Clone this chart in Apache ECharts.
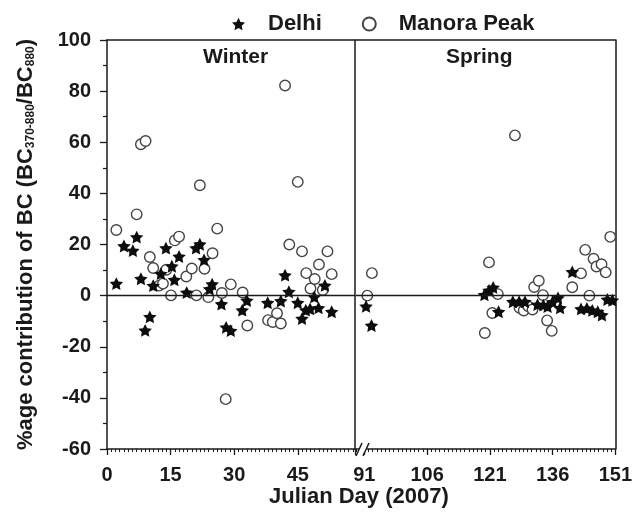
<!DOCTYPE html>
<html>
<head>
<meta charset="utf-8">
<script src="https://cdn.jsdelivr.net/npm/echarts@6/dist/echarts.min.js"></script>
<style>
html,body{margin:0;padding:0;background:#fff;}
#chart{width:635px;height:517px;}
</style>
</head>
<body>
<div id="chart"></div>
<script>
// ---- Data (Julian day, % contribution) ----
const delhiWinter = [
  [2.2,4.7],[4.0,19.4],[6.1,17.6],[7.0,22.9],[8.0,6.6],[9.0,-13.6],[10.1,-8.3],[10.9,3.9],
  [12.7,8.6],[13.9,18.6],[15.3,11.5],[15.9,6.2],[17.0,15.3],[18.8,1.2],[21.0,18.6],[21.9,20.1],
  [22.9,14.0],[24.2,2.6],[24.8,4.5],[27.0,-3.3],[28.1,-12.4],[29.2,-13.7],[31.9,-5.7],[33.0,-1.9],
  [37.9,-2.8],[41.0,-2.1],[42.0,8.0],[42.9,1.5],[45.0,-2.8],[46.0,-9.0],[46.9,-5.7],[47.9,-5.2],
  [48.9,-0.5],[49.9,-4.8],[51.4,4.0],[53.0,-6.3]
];
const manoraWinter = [
  [2.2,25.7],[7.0,31.8],[8.0,59.2],[9.1,60.5],[10.1,15.1],[10.9,10.8],[12.3,3.9],[13.2,4.7],
  [14.0,10.1],[15.1,0.1],[16.0,21.6],[17.0,23.1],[18.7,7.5],[20.0,10.6],[21.1,0.1],[21.9,43.2],
  [23.0,10.5],[23.9,-0.6],[24.9,16.6],[26.0,26.2],[27.1,1.0],[28.0,-40.5],[29.2,4.4],[32.0,1.2],
  [33.1,-11.7],[38.0,-9.6],[39.1,-10.3],[40.1,-6.9],[41.0,-10.9],[42.0,82.2],[43.0,20.0],[45.0,44.5],
  [46.0,17.3],[47.0,8.8],[48.0,2.8],[49.0,6.5],[50.0,12.2],[50.9,2.2],[52.0,17.3],[53.0,8.4]
];
const delhiSpring = [
  [91.4,-4.2],[92.7,-11.7],[119.7,0.3],[120.8,2.0],[121.8,3.2],[123.1,-6.3],[126.5,-2.4],[128.0,-2.4],
  [129.4,-2.4],[132.4,-3.5],[133.8,-3.7],[134.8,-4.3],[136.0,-2.5],[137.3,-0.9],[137.8,-4.8],[140.7,9.3],
  [142.8,-5.2],[144.2,-5.0],[145.5,-5.8],[146.8,-6.3],[147.8,-7.6],[149.1,-1.5],[150.3,-1.8]
];
const manoraSpring = [
  [91.7,0],[92.8,8.8],[119.8,-14.6],[120.8,13.0],[121.6,-6.8],[122.9,0.6],[127.0,62.7],[128.1,-4.8],
  [129.1,-5.8],[130.2,-4.2],[131.2,-5.4],[131.6,3.4],[132.7,5.8],[133.7,0.2],[134.7,-9.7],[135.8,-13.8],
  [140.7,3.3],[142.8,8.7],[143.8,17.9],[144.8,0],[145.8,14.4],[146.5,11.4],[147.7,12.3],[148.7,9.1],[149.8,23.0]
];
const winterTicks = [0, 15, 30, 45];
const springTicks = [91, 106, 121, 136, 151];
const yTicks = [-60, -40, -20, 0, 20, 40, 60, 80, 100];
const seriesNames = ['Delhi', 'Manora Peak'];
const panelNames = ['Winter', 'Spring'];
const xTitle = 'Julian Day (2007)';

// ---- Styling ----
const FF = '"Liberation Sans", Arial, Helvetica, sans-serif';
const INK = '#1a1a1a';
const LINE = { lineStyle: { color: INK, width: 1.5 } };
const STAR = 'path://M0,-10L2.94,-4.05L9.51,-3.09L4.76,1.55L5.88,8.09L0,5L-5.88,8.09L-4.76,1.55L-9.51,-3.09L-2.94,-4.05Z';
const labelStyle = { fontFamily: FF, fontSize: 20, fontWeight: 'bold', color: INK };

const chart = echarts.init(document.getElementById('chart'), null, { renderer: 'canvas' });

function lineOnlyX(grid, min, max, pos) {
  return { type: 'value', gridIndex: grid, position: pos, min, max,
    axisLine: { show: true, onZero: false, ...LINE }, axisTick: { show: false },
    axisLabel: { show: false }, splitLine: { show: false } };
}
function minorX(grid, min, max) {
  return { type: 'value', gridIndex: grid, position: 'bottom', min, max, interval: 1,
    axisLine: { show: false, onZero: false }, axisTick: { show: true, length: 3, lineStyle: { color: INK, width: 1 } },
    axisLabel: { show: false }, splitLine: { show: false } };
}
const zeroLine = { silent: true, symbol: ['none', 'none'], label: { show: false },
  lineStyle: { color: INK, width: 1.4, type: 'solid' }, data: [{ yAxis: 0 }] };

const starStyle = { symbol: STAR, symbolSize: 13.5, symbolKeepAspect: true, itemStyle: { color: '#0d0d0d', opacity: 1 } };
const circStyle = { symbol: 'circle', symbolSize: 10.5, itemStyle: { color: '#fff', borderColor: '#444', borderWidth: 1.4, opacity: 1 } };

const option = {
  animation: false,
  backgroundColor: '#fff',
  textStyle: { fontFamily: FF },
  legend: {
    data: seriesNames, top: 8, left: 227, itemGap: 40, itemWidth: 13, itemHeight: 13,
    textStyle: { fontFamily: FF, fontSize: 22, fontWeight: 'bold', color: INK, padding: [0, 0, 0, 18] }
  },
  grid: [
    { left: 107, top: 40, width: 248, height: 409 },
    { left: 356, top: 40, width: 263, height: 409 }
  ],
  xAxis: [
    { type: 'value', gridIndex: 0, position: 'bottom', min: 0, max: 58.5, interval: 15,
      axisLine: { show: true, onZero: false, ...LINE },
      axisTick: { show: true, length: 6, lineStyle: { color: INK, width: 1.3 } },
      axisLabel: { ...labelStyle, margin: 16, customValues: winterTicks },
      splitLine: { show: false } },
    minorX(0, 0, 58.5),
    lineOnlyX(0, 0, 58.5, 'top'),
    { type: 'value', gridIndex: 1, position: 'bottom', min: 89, max: 151,
      axisLine: { show: true, onZero: false, ...LINE },
      axisTick: { show: true, length: 6, customValues: springTicks, lineStyle: { color: INK, width: 1.3 } },
      axisLabel: { ...labelStyle, margin: 16, customValues: springTicks },
      splitLine: { show: false } },
    minorX(1, 89, 151),
    lineOnlyX(1, 89, 151, 'top')
  ],
  yAxis: [
    { type: 'value', gridIndex: 0, position: 'left', min: -60, max: 100, interval: 20,
      axisLine: { show: true, onZero: false, ...LINE },
      axisTick: { show: true, length: 7, lineStyle: { color: INK, width: 1.3 } },
      minorTick: { show: true, splitNumber: 2, length: 4, lineStyle: { color: INK, width: 1.2 } },
      axisLabel: { ...labelStyle, margin: 16, customValues: yTicks },
      splitLine: { show: false },
      name: '%age contribution of BC (BC{sub|370-880}/BC{sub|880})',
      nameLocation: 'middle', nameGap: 70, nameRotate: 90,
      nameTextStyle: { fontFamily: FF, fontSize: 22, fontWeight: 'bold', color: INK,
        rich: { sub: { fontFamily: FF, fontSize: 12, fontWeight: 'bold', color: INK, verticalAlign: 'bottom' } } } },
    { type: 'value', gridIndex: 0, position: 'right', min: -60, max: 100,
      axisLine: { show: true, onZero: false, ...LINE }, axisTick: { show: false },
      axisLabel: { show: false }, splitLine: { show: false } },
    { type: 'value', gridIndex: 1, position: 'right', min: -60, max: 100,
      axisLine: { show: true, onZero: false, ...LINE }, axisTick: { show: false },
      axisLabel: { show: false }, splitLine: { show: false } }
  ],
  series: [
    { name: seriesNames[1], type: 'scatter', xAxisIndex: 0, yAxisIndex: 0, data: manoraWinter, ...circStyle, z: 3, markLine: zeroLine },
    { name: seriesNames[0], type: 'scatter', xAxisIndex: 0, yAxisIndex: 0, data: delhiWinter, ...starStyle, z: 4 },
    { name: seriesNames[1], type: 'scatter', xAxisIndex: 3, yAxisIndex: 2, data: manoraSpring, ...circStyle, z: 3, markLine: zeroLine },
    { name: seriesNames[0], type: 'scatter', xAxisIndex: 3, yAxisIndex: 2, data: delhiSpring, ...starStyle, z: 4 }
  ],
  graphic: [
    { type: 'text', left: 203, top: 47, style: { text: panelNames[0], font: 'bold 21px ' + FF, fill: INK } },
    { type: 'text', left: 446, top: 47, style: { text: panelNames[1], font: 'bold 21px ' + FF, fill: INK } },
    { type: 'text', left: 269, top: 486, style: { text: xTitle, font: 'bold 22px ' + FF, fill: INK } },
    // axis break
    { type: 'rect', shape: { x: 359, y: 446, width: 8, height: 6 }, style: { fill: '#fff' }, z: 100 },
    { type: 'line', shape: { x1: 356, y1: 456, x2: 362, y2: 443 }, style: { stroke: INK, lineWidth: 1.5 }, z: 101 },
    { type: 'line', shape: { x1: 363, y1: 456, x2: 369, y2: 443 }, style: { stroke: INK, lineWidth: 1.5 }, z: 101 }
  ]
};
chart.setOption(option);
</script>
</body>
</html>
